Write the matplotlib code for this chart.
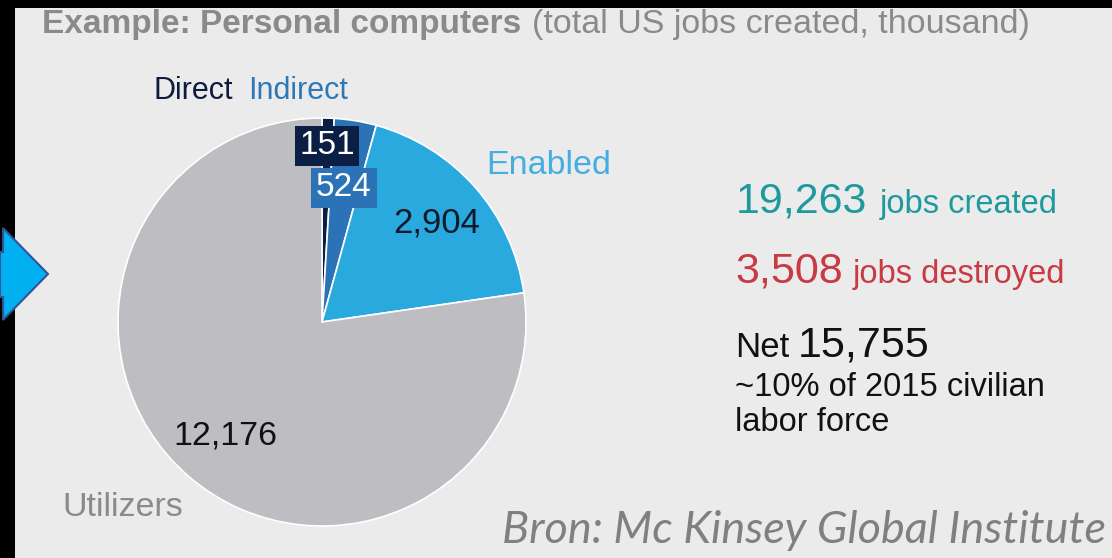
import numpy as np
import matplotlib.pyplot as plt
from matplotlib.patches import Rectangle, Polygon

# pie data (thousand jobs)
segments = ["Direct", "Indirect", "Enabled", "Utilizers"]
jobs = [151, 524, 2904, 12176]
seg_colors = ["#0b1f45", "#2b73b6", "#2aa9df", "#bdbdc2"]

created = 19263
destroyed = 3508
net = 15755

W, H = 1112, 558
bg = "#ebebeb"

plt.rcParams['font.family'] = ['Liberation Sans', 'DejaVu Sans']

fig = plt.figure(figsize=(W / 100, H / 100), dpi=100, facecolor=bg)
ax = fig.add_axes([0, 0, 1, 1])
ax.set_facecolor(bg)


def py(y):
    # image row -> data y
    return H - y


# pie
cx, cy, rad = 322, py(322), 204
wedges, _ = ax.pie(jobs, colors=seg_colors, startangle=90, counterclock=False,
                   center=(cx, cy), radius=rad,
                   wedgeprops=dict(edgecolor="white", linewidth=1.2))

ax.set_xlim(0, W)
ax.set_ylim(0, H)
ax.set_aspect("equal")
ax.axis("off")

# segment names
ax.text(153, py(91), segments[0], color="#0d1b3e", fontsize=22, ha="left", va="center")
ax.text(248, py(91), segments[1], color="#2e78b8", fontsize=22, ha="left", va="center")
ax.text(486, py(165), segments[2], color="#45aee0", fontsize=24.5, ha="left", va="center")
ax.text(62, py(508), segments[3], color="#8a8a8a", fontsize=24.5, ha="left", va="center")

# values on slices
ax.text(327, py(146), f"{jobs[0]:,}", color="white", fontsize=24, ha="center", va="center",
        bbox=dict(boxstyle="square,pad=0.14", fc=seg_colors[0], ec="none"))
ax.text(344, py(188), f"{jobs[1]:,}", color="white", fontsize=24, ha="center", va="center",
        bbox=dict(boxstyle="square,pad=0.14", fc=seg_colors[1], ec="none"))
ax.text(437, py(223), f"{jobs[2]:,}", color="#111a2b", fontsize=25, ha="center", va="center")
ax.text(225, py(436), f"{jobs[3]:,}", color="#111111", fontsize=24.5, ha="center", va="center")

# title
ax.text(42, py(33), "Example: Personal computers", color="#8a8a8a", fontsize=24,
        fontweight="bold", ha="left", va="baseline")
ax.text(532, py(33), "(total US jobs created, thousand)", color="#8a8a8a", fontsize=24.5,
        ha="left", va="baseline")

# summary
ax.text(736, py(213), f"{created:,}", color="#1d9a9e", fontsize=31, ha="left", va="baseline")
ax.text(880, py(213), "jobs created", color="#1d9a9e", fontsize=23.5, ha="left", va="baseline")
ax.text(735, py(283), f"{destroyed:,}", color="#c93a45", fontsize=31, ha="left", va="baseline")
ax.text(853, py(283), "jobs destroyed", color="#c93a45", fontsize=23.5, ha="left", va="baseline")
ax.text(735, py(357), "Net", color="#111111", fontsize=25, ha="left", va="baseline")
ax.text(798, py(357), f"{net:,}", color="#111111", fontsize=31, ha="left", va="baseline")
ax.text(735, py(396), "~10% of 2015 civilian", color="#111111", fontsize=23.5, ha="left", va="baseline")
ax.text(735, py(431), "labor force", color="#111111", fontsize=23.5, ha="left", va="baseline")

# source, sized so that it just fits up to the right edge
src = ax.text(502, py(543), "Bron: Mc Kinsey Global Institute", color="#808080", fontsize=30,
              family=["Lato", "DejaVu Sans"], style="italic", ha="left", va="baseline")
fig.canvas.draw()
bb = src.get_window_extent()
src.set_fontsize(30 * (1106 - 502) / bb.width)

# black frame strips
ax.add_patch(Rectangle((0, 0), 15, H, fc="black", ec="none", zorder=6))
ax.add_patch(Rectangle((0, H - 8), W, 8, fc="black", ec="none", zorder=6))

# arrow on the left edge
arrow = Polygon([(0, py(252)), (3, py(252)), (3, py(228)), (48, py(274)),
                 (3, py(320)), (3, py(297)), (0, py(297))],
                closed=True, fc="#00b0f0", ec="#2f5597", lw=1.5, zorder=7)
ax.add_patch(arrow)

fig.savefig("out.png", dpi=100, facecolor=bg)
